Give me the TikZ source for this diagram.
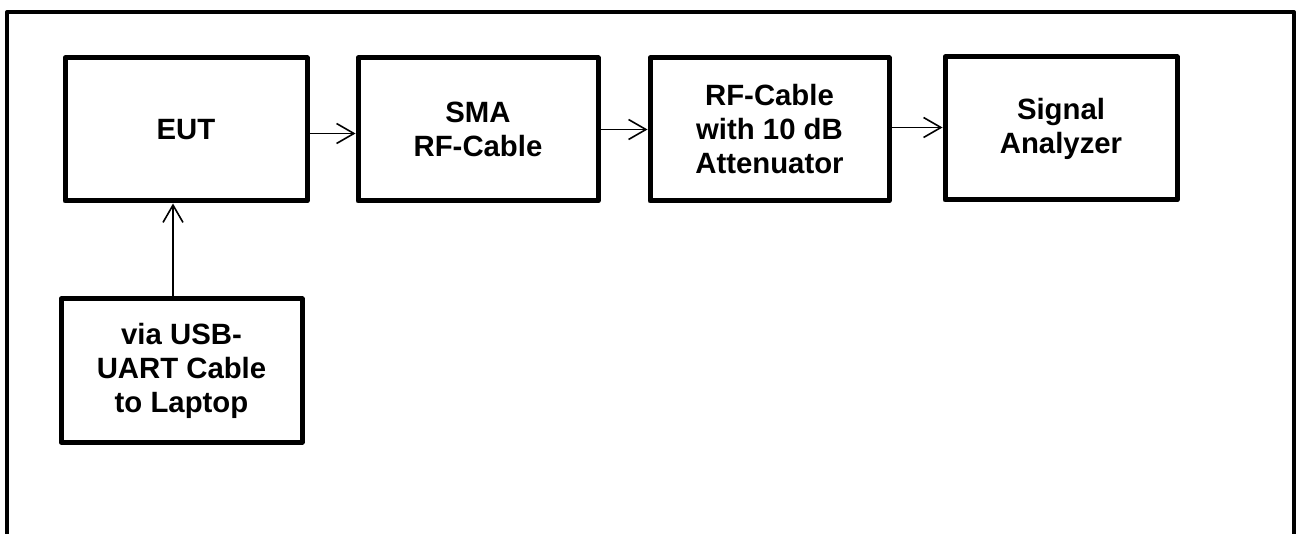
\documentclass[tikz,border=0pt]{standalone}
\usepackage{fontspec}
\setmainfont{Liberation Sans}
\usetikzlibrary{arrows.meta}
\begin{document}
\begin{tikzpicture}[x=0.75pt,y=-0.75pt,
  box/.style={draw, line width=3.75pt, line join=round, minimum height=107.25pt,
    align=center, inner sep=0pt, font=\bfseries\fontsize{22pt}{25.5pt}\selectfont},
  arr/.style={line width=1.2pt, -{Straight Barb[length=13pt,width=15pt,line width=1.2pt]}},
  frame/.style={line width=3pt, line join=round}]
\useasboundingbox (0,0) rectangle (1298,534);
\draw[frame] (7,540) -- (7,12) -- (1294,12) -- (1294,540);
\node[box, minimum width=181.5pt] (eut) at (186,129.5) {EUT};
\node[box, minimum width=180pt] (sma) at (478,129.5) {SMA\\RF-Cable};
\node[box, minimum width=179.25pt] (rf) at (769.5,129.5) {RF-Cable\\with 10 dB\\Attenuator};
\node[box, minimum width=174pt] (sig) at (1061,128.5) {Signal\\Analyzer};
\node[box, minimum width=180.75pt] (usb) at (181.5,370.5) {via USB-\\UART Cable\\to Laptop};
\coordinate (ax) at (173,0);
\draw[arr] ([yshift=-3pt]eut.east) coordinate (p1) -- (sma.west |- p1);
\draw[arr] (sma.east) coordinate (p2) -- (rf.west |- p2);
\draw[arr] ([yshift=1.5pt]rf.east) coordinate (p3) -- (sig.west |- p3);
\draw[arr] (usb.north -| ax) -- (eut.south -| ax);
\end{tikzpicture}
\end{document}
